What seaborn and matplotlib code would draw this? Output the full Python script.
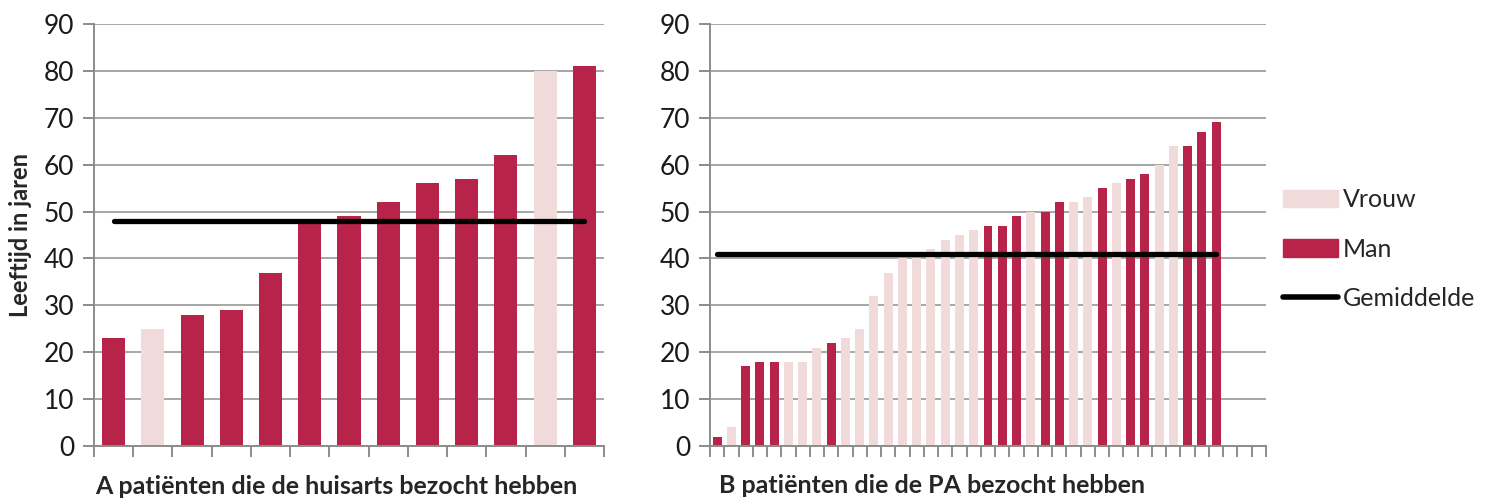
import numpy as np
import pandas as pd
import matplotlib
matplotlib.use("Agg")
import matplotlib.pyplot as plt
import seaborn as sns
from matplotlib.patches import Patch
from matplotlib.lines import Line2D

# ---- data ----
a_ages = [23, 25, 28, 29, 37, 48, 49, 52, 56, 57, 62, 80, 81]
a_sex = ["Man", "Vrouw", "Man", "Man", "Man", "Man", "Man", "Man", "Man", "Man", "Man", "Vrouw", "Man"]
a_mean = 48

b_ages = [2, 4, 17, 18, 18, 18, 18, 21, 22, 23, 25, 32, 37, 40, 40, 42, 44, 45, 46,
          47, 47, 49, 50, 50, 52, 52, 53, 55, 56, 57, 58, 60, 64, 64, 67, 69]
b_sex = ["Man", "Vrouw", "Man", "Man", "Man", "Vrouw", "Vrouw", "Vrouw", "Man", "Vrouw",
         "Vrouw", "Vrouw", "Vrouw", "Vrouw", "Vrouw", "Vrouw", "Vrouw", "Vrouw", "Vrouw",
         "Man", "Man", "Man", "Vrouw", "Man", "Man", "Vrouw", "Vrouw", "Man", "Vrouw",
         "Man", "Man", "Vrouw", "Vrouw", "Man", "Man", "Man"]
b_mean = 41
b_slots = 39  # categories on the axis (last ones empty)

y_ticks = [0, 10, 20, 30, 40, 50, 60, 70, 80, 90]
legend_labels = ["Vrouw", "Man", "Gemiddelde"]
ylabel = "Leeftijd in jaren"
xlabel_a = "A patiënten die de huisarts bezocht hebben"
xlabel_b = "B patiënten die de PA bezocht hebben"

colors = {"Man": "#B8234A", "Vrouw": "#F1DADA"}
grid_c = "#A6A6A6"
axis_c = "#8C8C8C"

sns.set_style("white")
plt.rcParams["font.family"] = ["Lato", "DejaVu Sans"]

fig = plt.figure(figsize=(14.86, 4.98), dpi=100)
W, H = 1486, 498
ax_a = fig.add_axes([94 / W, 1 - 446 / H, (604 - 94) / W, (446 - 24) / H])
ax_b = fig.add_axes([710 / W, 1 - 446 / H, (1266 - 710) / W, (446 - 24) / H])


def panel(ax, ages, sex, mean, slots, width):
    ids = [f"p{i}" for i in range(len(ages))]
    order = [f"p{i}" for i in range(slots)]
    df = pd.DataFrame({"id": ids, "age": ages, "sex": sex})
    sns.barplot(data=df, x="id", y="age", hue="sex", order=order, palette=colors,
                dodge=False, width=width, legend=False, ax=ax, saturation=1,
                edgecolor="none", linewidth=0)
    ax.plot([0, len(ages) - 1], [mean, mean], color="black", lw=3.8,
            solid_capstyle="round", zorder=5)
    ax.set_xlim(-0.5, slots - 0.5)
    ax.set_ylim(0, 90)
    ax.set_yticks(y_ticks)
    ax.set_xticks(np.arange(-0.5, slots, 1.0))
    ax.set_xticklabels([])
    ax.set_xlabel("")
    ax.set_ylabel("")
    ax.grid(axis="y", color=grid_c, lw=1.4, zorder=0)
    ax.set_axisbelow(True)
    for s in ["top", "right"]:
        ax.spines[s].set_visible(False)
    for s in ["left", "bottom"]:
        ax.spines[s].set_color(axis_c)
        ax.spines[s].set_linewidth(1.4)
    ax.tick_params(axis="both", direction="out", length=8, width=1.4, color=axis_c,
                   labelsize=19, labelcolor="#1a1a1a", left=True, bottom=True, pad=6)


panel(ax_a, a_ages, a_sex, a_mean, len(a_ages), 0.59)
panel(ax_b, b_ages, b_sex, b_mean, b_slots, 0.63)

fig.text(336 / W, 1 - 486 / H, xlabel_a, ha="center", va="center",
         fontsize=18, fontweight="bold")
fig.text(932 / W, 1 - 485 / H, xlabel_b, ha="center", va="center",
         fontsize=18, fontweight="bold")
fig.text(21 / W, 1 - 235 / H, ylabel, ha="center", va="center", rotation=90,
         fontsize=17, fontweight="bold")

handles = [Patch(color=colors["Vrouw"]), Patch(color=colors["Man"]),
           Line2D([], [], color="black", lw=4, solid_capstyle="round")]
fig.legend(handles, legend_labels, loc="center left",
           bbox_to_anchor=(1283 / W, 1 - 249 / H), frameon=False, fontsize=18,
           handlelength=2.2, handleheight=0.7, handletextpad=0.2, labelspacing=1.05,
           borderpad=0, borderaxespad=0)

fig.savefig("out.png", dpi=100)
